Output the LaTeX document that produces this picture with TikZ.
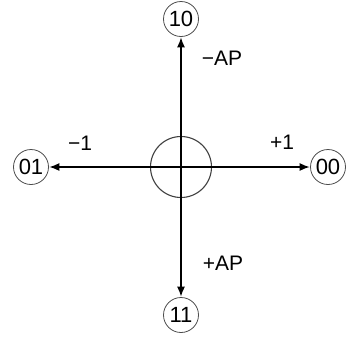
\documentclass[tikz,border=0pt]{standalone}
\usepackage{fontspec}
\setmainfont{Liberation Sans}
\usepackage{tikz}
\usetikzlibrary{arrows.meta}

\begin{document}
\begin{tikzpicture}[
 x=1pt, y=-1pt, >={Latex[length=10pt,width=8pt]},
 font=\fontsize{21}{23}\selectfont,
 state/.style={draw=black!70, circle, line width=0.8pt, minimum size=35pt, inner sep=0pt,
   font=\fontsize{22}{23}\selectfont},
 axis/.style={->, line width=1.2pt, shorten >=0.5pt},
 lbl/.style={inner sep=0pt}]
\useasboundingbox (0,0) rectangle (346,341);
\node[draw=black!75, circle, line width=1.1pt, minimum size=61pt, inner sep=0pt] (hub) at (181,167) {};
\node[state] (n10) at (181,19) {10};
\node[state] (n11) at (181,315) {11};
\node[state] (n01) at (31,167) {01};
\node[state] (n00) at (328,167) {00};
\draw[axis] (hub.center) -- (n10);
\draw[axis] (hub.center) -- (n11);
\draw[axis] (hub.center) -- (n01);
\draw[axis] (hub.center) -- (n00);
\node[lbl] (mAP) at (222,58) {−AP};
\node[lbl] (pAP) at (223,263) {+AP};
\node[lbl] (m1) at (80,143) {−1};
\node[lbl] (p1) at (282,142) {+1};
\end{tikzpicture}
\end{document}
